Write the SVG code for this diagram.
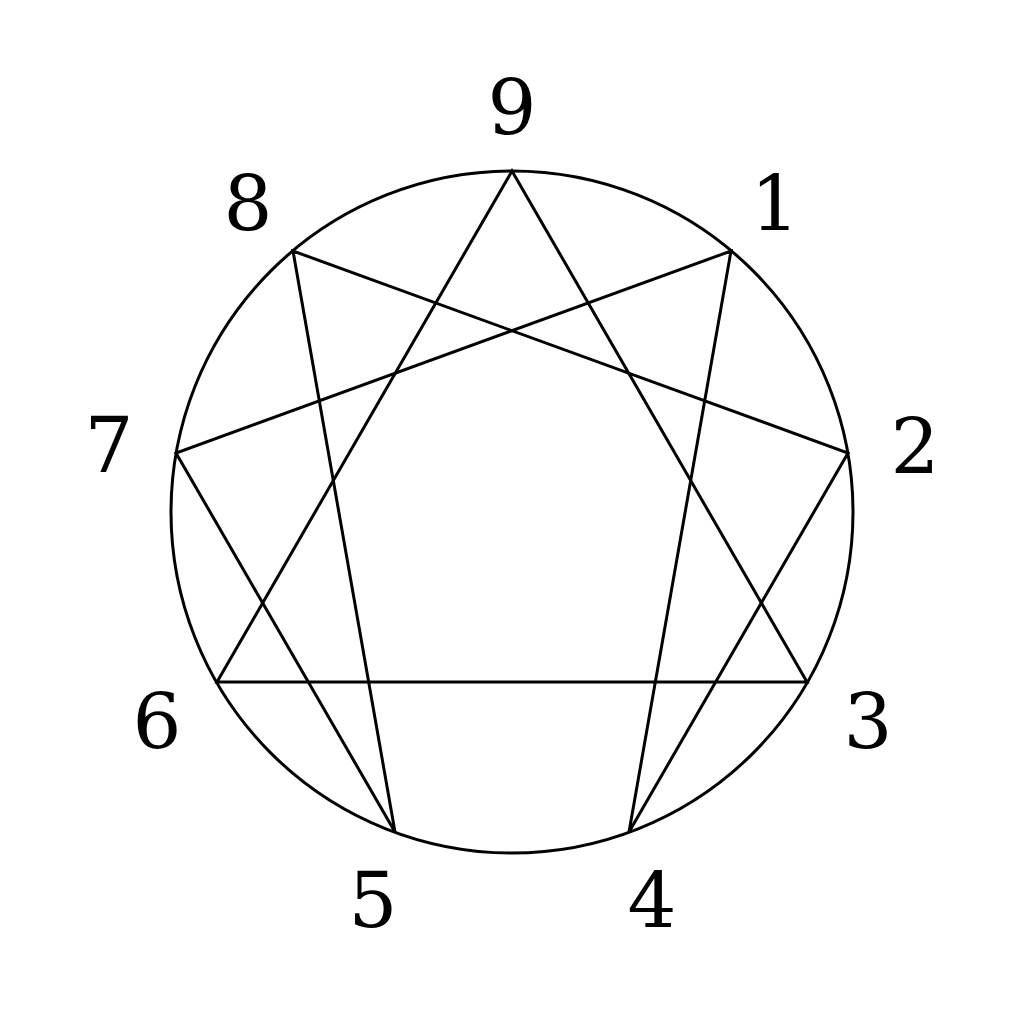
<svg xmlns="http://www.w3.org/2000/svg" width="1024" height="1024" viewBox="0 0 1024 1024">
<style>
.l{fill:none;stroke:#000;stroke-width:3;stroke-linejoin:miter}
text{font-family:"DejaVu Serif",serif;font-size:77px;text-anchor:middle;fill:#000}
</style>
<rect width="1024" height="1024" fill="#fff"/>
<g id="connectors">
<circle class="l" cx="512" cy="512" r="341"/>
<polygon class="l" points="512,171 807,682 217,682"/>
<polygon class="l" points="731,251 629,832 848,453 293,251 395,832 176,453"/>
</g>
<g id="n9"><text x="512" y="134">9</text></g>
<g id="n1"><text x="775" y="230">1</text></g>
<g id="n2"><text x="915" y="473">2</text></g>
<g id="n3"><text x="868" y="748">3</text></g>
<g id="n4"><text x="652" y="927">4</text></g>
<g id="n5"><text x="373" y="927">5</text></g>
<g id="n6"><text x="157" y="748">6</text></g>
<g id="n7"><text x="109" y="472">7</text></g>
<g id="n8"><text x="248" y="230">8</text></g>
</svg>
